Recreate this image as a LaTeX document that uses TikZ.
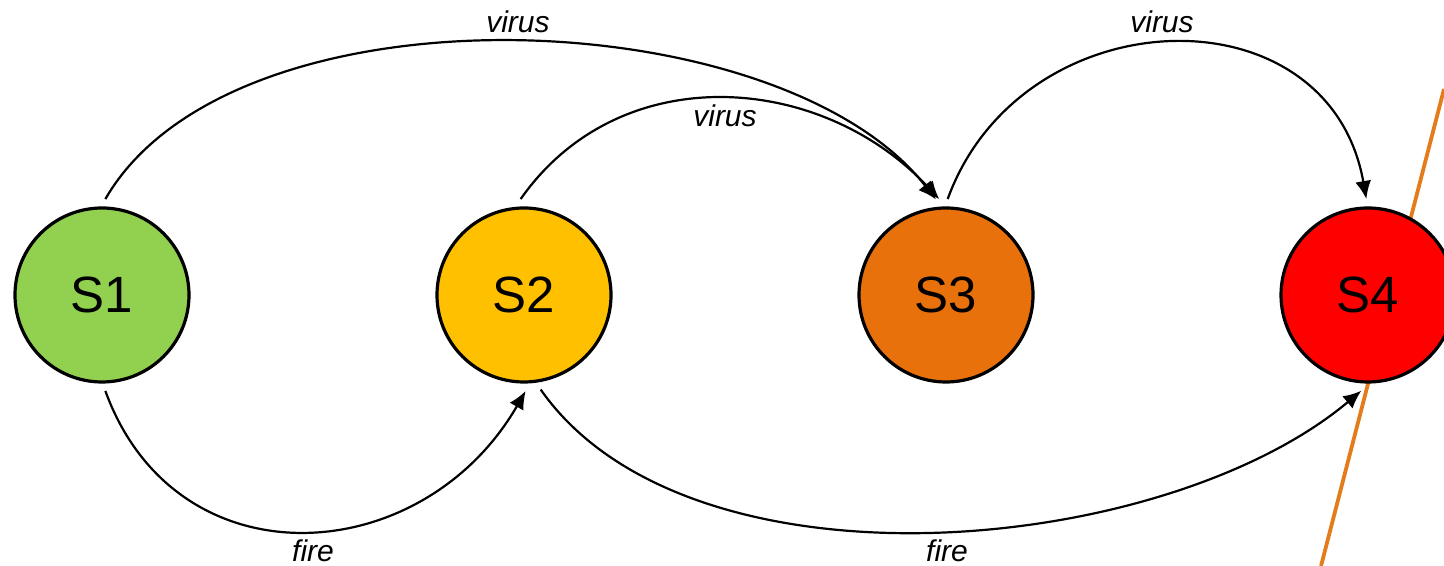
\documentclass[tikz,border=0pt]{standalone}
\usepackage{fontspec}
\setmainfont{Liberation Sans}
\usepackage{tikz}
\definecolor{zustandgruen}{RGB}{146,208,80}
\definecolor{zustandgelb}{RGB}{255,192,0}
\definecolor{zustandorange}{RGB}{233,113,12}
\definecolor{zustandrot}{RGB}{255,0,0}
\definecolor{grenzlinie}{RGB}{228,124,28}
\usetikzlibrary{arrows.meta}

\begin{document}
\begin{tikzpicture}[zustand/.style={draw, circle, fill=#1, line width=1.6pt, minimum size=87pt, inner sep=0pt, outer sep=4.5pt, font=\fontsize{25.5}{30}\selectfont},
			beschriftung/.style={font=\itshape\fontsize{15}{18}\selectfont, anchor=base, inner sep=0pt},
			kante/.style={->, line width=1.1pt},
			x=0.5pt, y=0.5pt,
			>={Latex[length=9pt,width=8pt]}]   %Pfeilspitzen
			%Bildbereich
			\useasboundingbox (0,0) rectangle (1444,566);
			% Grenzlinie
			\draw[grenzlinie, line width=1.9pt] (1444,477) -- (1321,0);
			% Zustaende
			\node[zustand=zustandgruen]  (s1) at (102,271)  {S1};
			\node[zustand=zustandgelb]   (s2) at (524,271)  {S2};
			\node[zustand=zustandorange] (s3) at (946,271)  {S3};
			\node[zustand=zustandrot]    (s4) at (1368,271) {S4};
			% Uebergaenge oben
			\draw[kante] (s1.88) .. controls +(60:254) and +(128:254) .. (s3.96);
			\draw[kante] (s2.92) .. controls +(55:173) and +(133:173) .. (s3.94);
			\draw[kante] (s3.89) .. controls +(70:216) and +(100:216) .. (s4.91);
			% Uebergaenge unten
			\draw[kante] (s1.-88) .. controls +(-70:207) and +(-120:207) .. (s2.-89);
			\draw[kante] (s2.-80) .. controls +(-55:258) and +(-140:258) .. (s4.-94);
			% Beschriftung
			\node[beschriftung] (v13) at (518,533)  {virus};
			\node[beschriftung] (v23) at (725,439)  {virus};
			\node[beschriftung] (v34) at (1162,533) {virus};
			\node[beschriftung] (f12) at (313,4)    {fire};
			\node[beschriftung] (f24) at (947,4)    {fire};
		\end{tikzpicture}
\end{document}
